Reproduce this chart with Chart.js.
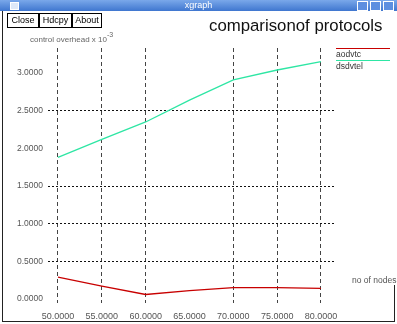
<!DOCTYPE html>
<html>
<head>
<meta charset="utf-8">
<script src="https://cdn.jsdelivr.net/npm/chart.js@4"></script>
<style>
  html, body { margin: 0; padding: 0; background: #fff; }
  body { width: 397px; height: 324px; position: relative; overflow: hidden; font-family: "Liberation Sans", Arial, sans-serif; }
  .titlebar { position: absolute; left: 0; top: 0; width: 397px; height: 11px;
    background: linear-gradient(#7aa8ea, #3f76cf); }
  .titlebar .name { position: absolute; left: 0; width: 397px; top: 0; text-align: center; color: #fff; font-size: 9px; line-height: 11px; }
  .titlebar .icon { position: absolute; left: 10px; top: 2px; width: 7px; height: 6px; border: 1px solid #fff; background: #dfe9f8; }
  .titlebar .wb { position: absolute; top: 1px; width: 9px; height: 8px; border: 1px solid #fff; background: #5d8fe0; }
  .frame { position: absolute; left: 2px; top: 11px; width: 392px; height: 310px; border-left: 1px solid #222; border-bottom: 1px solid #222; }
  .rframe { position: absolute; left: 394px; top: 285px; width: 1px; height: 37px; background: #222; }
  .btn { position: absolute; top: 13px; height: 13px; border: 1px solid #000; font-size: 9px; line-height: 13px; text-align: center; color: #000; }
  .title { position: absolute; left: 209px; top: 16px; font-size: 16.8px; color: #111; white-space: nowrap; }
  .ylabel { position: absolute; left: 30px; top: 32px; font-size: 8px; color: #666; white-space: nowrap; }
  .ylabel sup { font-size: 7px; position: relative; top: -1px; }
  .xlabel { position: absolute; left: 352px; top: 275px; font-size: 8.5px; color: #555; white-space: nowrap; }
  .leg { position: absolute; left: 336px; width: 54px; font-size: 8.5px; color: #333; line-height: 10px; }
  canvas { position: absolute; left: 0; top: 0; }
</style>
</head>
<body>
<canvas id="c" width="397" height="324"></canvas>
<div class="titlebar"><div class="icon"></div><div class="name">xgraph</div>
  <div class="wb" style="left:357px"></div><div class="wb" style="left:370px"></div><div class="wb" style="left:383px"></div></div>
<div class="frame"></div>
<div class="rframe"></div>
<div class="btn" style="left:7px;width:30px">Close</div>
<div class="btn" style="left:39px;width:31px">Hdcpy</div>
<div class="btn" style="left:72px;width:28px">About</div>
<div class="title">comparisonof protocols</div>
<div class="ylabel">control overhead x 10<sup>-3</sup></div>
<div class="xlabel">no of nodes</div>
<div class="leg" style="top:48px;border-top:1px solid #c80000">aodvtc</div>
<div class="leg" style="top:60px;border-top:1px solid #2ee6a4">dsdvtel</div>
<script>
const nodes = [50, 55, 60, 65, 70, 75, 80];
const aodv = [0.29, 0.17, 0.06, 0.11, 0.15, 0.15, 0.14];
const dsdv = [1.88, 2.12, 2.35, 2.64, 2.91, 3.04, 3.15];
const yTicks = [0, 0.5, 1.0, 1.5, 2.0, 2.5, 3.0];
const hiddenY = [0, 2.0, 3.0];
const hiddenX = [65];

new Chart(document.getElementById('c'), {
  type: 'line',
  data: {
    datasets: [
      { label: 'aodvtc', data: nodes.map((n, i) => ({ x: n, y: aodv[i] })), borderColor: '#c80000', borderWidth: 1.3, pointRadius: 0, tension: 0 },
      { label: 'dsdvtel', data: nodes.map((n, i) => ({ x: n, y: dsdv[i] })), borderColor: '#2ee6a4', borderWidth: 1.3, pointRadius: 0, tension: 0 }
    ]
  },
  options: {
    responsive: false,
    animation: false,
    layout: { padding: { top: 48, right: 62, left: 0, bottom: 0 } },
    plugins: { legend: { display: false }, tooltip: { enabled: false } },
    scales: {
      x: {
        type: 'linear', min: 48.86, max: 81.6,
        afterBuildTicks: s => { s.ticks = nodes.map(v => ({ value: v })); },
        afterFit: s => { s.height = 21; },
        grid: { drawTicks: false, color: c => hiddenX.includes(c.tick && c.tick.value) ? 'transparent' : '#444' },
        border: { display: false, dash: [4, 3] },
        ticks: { padding: 8, color: '#555', font: { family: 'Liberation Sans', size: 9 }, maxRotation: 0, autoSkip: false,
          callback: v => v.toFixed(4) }
      },
      y: {
        min: -0.053, max: 3.332,
        afterBuildTicks: s => { s.ticks = yTicks.map(v => ({ value: v })); },
        afterFit: s => { s.width = 48; },
        grid: { drawTicks: false, color: c => hiddenY.includes(c.tick && c.tick.value) ? 'transparent' : '#111' },
        border: { display: false, dash: [2, 2] },
        ticks: { padding: 5, color: '#555', font: { family: 'Liberation Sans', size: 8.5 }, autoSkip: false,
          callback: v => v.toFixed(4) }
      }
    }
  }
});
</script>
</body>
</html>
